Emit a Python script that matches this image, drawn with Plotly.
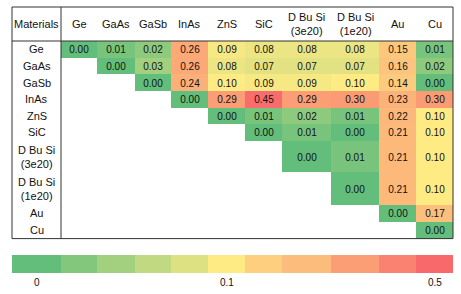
import plotly.graph_objects as go

# ---------------- data ----------------
materials = ["Ge", "GaAs", "GaSb", "InAs", "ZnS", "SiC",
             "D Bu Si<br>(3e20)", "D Bu Si<br>(1e20)", "Au", "Cu"]
corner_label = "Materials"

row_ge     = [0.00, 0.01, 0.02, 0.26, 0.09, 0.08, 0.08, 0.08, 0.15, 0.01]
row_gaas   = [None, 0.00, 0.03, 0.26, 0.08, 0.07, 0.07, 0.07, 0.16, 0.02]
row_gasb   = [None, None, 0.00, 0.24, 0.10, 0.09, 0.09, 0.10, 0.14, 0.00]
row_inas   = [None, None, None, 0.00, 0.29, 0.45, 0.29, 0.30, 0.23, 0.30]
row_zns    = [None, None, None, None, 0.00, 0.01, 0.02, 0.01, 0.22, 0.10]
row_sic    = [None, None, None, None, None, 0.00, 0.01, 0.00, 0.21, 0.10]
row_dbusi3 = [None, None, None, None, None, None, 0.00, 0.01, 0.21, 0.10]
row_dbusi1 = [None, None, None, None, None, None, None, 0.00, 0.21, 0.10]
row_au     = [None, None, None, None, None, None, None, None, 0.00, 0.17]
row_cu     = [None, None, None, None, None, None, None, None, None, 0.00]

legend_steps = [0, 0.015, 0.03, 0.049, 0.067, 0.1, 0.135, 0.19, 0.29, 0.38, 0.5]
legend_tick_index = [0, 5, 10]
legend_tick_text = ["0", "0.1", "0.5"]

z = [row_ge, row_gaas, row_gasb, row_inas, row_zns, row_sic,
     row_dbusi3, row_dbusi1, row_au, row_cu]

# ---------------- layout (pixel space) ----------------
W, H = 461, 294
col_edges = [12, 61, 97, 135, 171, 208, 245, 282, 331, 379, 416, 453]
row_edges = [7, 41, 57.6, 74.3, 90.9, 107.5, 124.2, 140.7, 172.3, 205.0, 221.8, 238.6]
legend_y = [255, 272.5]
legend_label_y = 282

ZMAX = 0.5
colorscale = [
    [0.0, "#63BE7B"],
    [0.03 / ZMAX, "#A3D07F"],
    [0.07 / ZMAX, "#E3E282"],
    [0.10 / ZMAX, "#FFEB84"],
    [0.14 / ZMAX, "#FDCB7E"],
    [0.17 / ZMAX, "#FCC07C"],
    [0.22 / ZMAX, "#FCB77A"],
    [0.26 / ZMAX, "#FCA877"],
    [0.30 / ZMAX, "#FB9B74"],
    [0.45 / ZMAX, "#F86D6C"],
    [1.0, "#F8696B"],
]
FONT = "Liberation Sans, Arial, sans-serif"

fig = go.Figure()
fig.add_trace(go.Heatmap(
    z=z, x=col_edges[1:], y=row_edges[1:],
    zmin=0, zmax=ZMAX, colorscale=colorscale, showscale=False,
    texttemplate="%{z:.2f}", textfont=dict(family=FONT, size=10, color="#111"),
    hoverinfo="skip",
))
fig.add_trace(go.Heatmap(
    z=[legend_steps], x=col_edges, y=legend_y,
    zmin=0, zmax=ZMAX, colorscale=colorscale, showscale=False,
    hoverinfo="skip",
))

ann = []
ann.append(dict(x=(col_edges[0] + col_edges[1]) / 2, y=(row_edges[0] + row_edges[1]) / 2,
                text=corner_label))
for i, m in enumerate(materials):
    ann.append(dict(x=(col_edges[i + 1] + col_edges[i + 2]) / 2,
                    y=(row_edges[0] + row_edges[1]) / 2, text=m))
for j, m in enumerate(materials):
    ann.append(dict(x=(col_edges[0] + col_edges[1]) / 2,
                    y=(row_edges[j + 1] + row_edges[j + 2]) / 2, text=m))
for k, t in zip(legend_tick_index, legend_tick_text):
    ann.append(dict(x=(col_edges[k] + col_edges[k + 1]) / 2, y=legend_label_y, text=t,
                    font=dict(family=FONT, size=10, color="#111")))
for a in ann:
    a.setdefault("font", dict(family=FONT, size=11, color="#111"))
    a.update(xref="x", yref="y", showarrow=False, xanchor="center", yanchor="middle")

line = dict(color="#333", width=1)
shapes = [
    dict(type="rect", xref="x", yref="y", x0=col_edges[0], x1=col_edges[-1],
         y0=row_edges[0], y1=row_edges[-1], line=line),
    dict(type="line", xref="x", yref="y", x0=col_edges[1], x1=col_edges[1],
         y0=row_edges[0], y1=row_edges[-1], line=line),
    dict(type="line", xref="x", yref="y", x0=col_edges[0], x1=col_edges[-1],
         y0=row_edges[1], y1=row_edges[1], line=line),
]

fig.update_layout(
    width=W, height=H, margin=dict(l=0, r=0, t=0, b=0),
    paper_bgcolor="white", plot_bgcolor="white",
    xaxis=dict(range=[0, W], visible=False, fixedrange=True),
    yaxis=dict(range=[H, 0], visible=False, fixedrange=True),
    annotations=ann, shapes=shapes, showlegend=False,
)
fig.write_html("out.html", post_script="document.body.style.margin='0';",
               config={"displayModeBar": False})
